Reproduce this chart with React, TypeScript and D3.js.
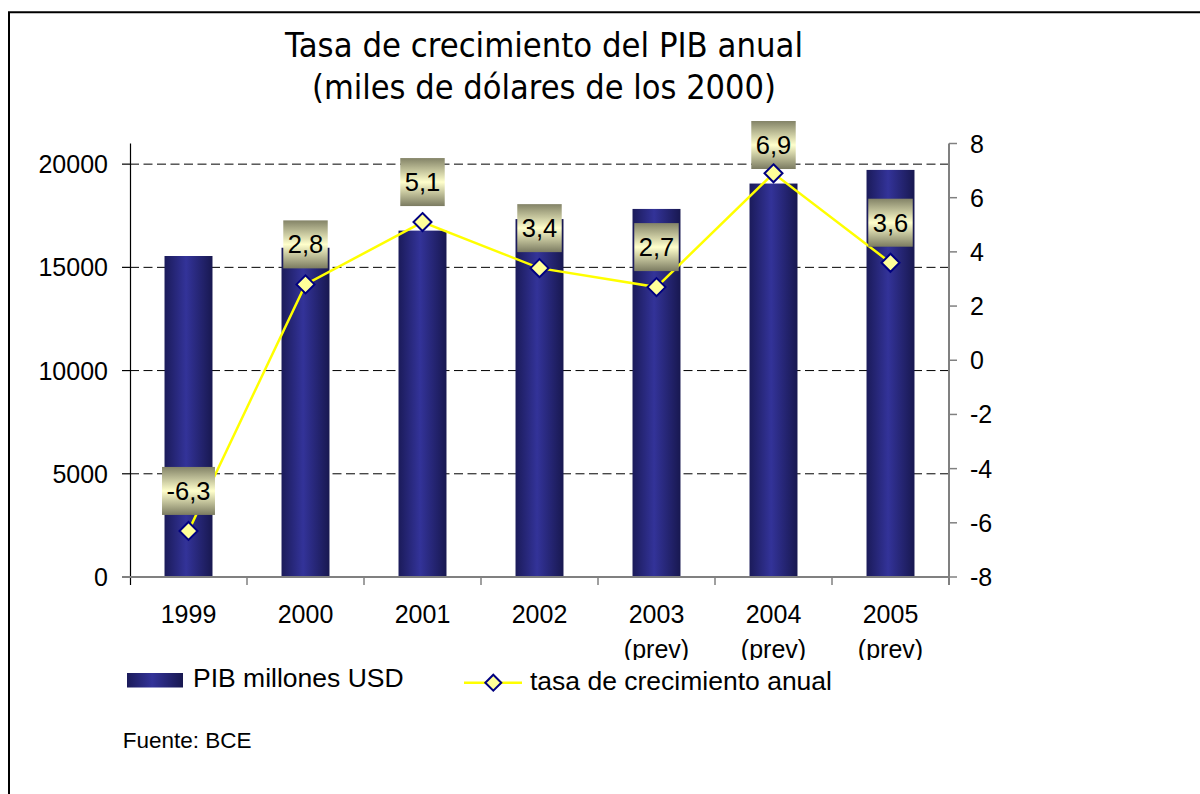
import React, { useEffect, useRef } from 'react';
import * as d3 from 'd3';

// values
const years = ['1999', '2000', '2001', '2002', '2003', '2004', '2005'];
const yearNotes = ['', '', '', '', '(prev)', '(prev)', '(prev)'];
const pibValues = [15550, 15950, 16780, 17340, 17830, 19060, 19720];
const growthRates = [-6.3, 2.8, 5.1, 3.4, 2.7, 6.9, 3.6];
const pibTicks = [0, 5000, 10000, 15000, 20000];
const rateTicks = [-8, -6, -4, -2, 0, 2, 4, 6, 8];

const titleLines = ['Tasa de crecimiento del PIB anual', '(miles de dólares de los 2000)'];
const legendLabels = ['PIB millones USD', 'tasa de crecimiento anual'];
const sourceNote = 'Fuente: BCE';

const ARIAL = "'Liberation Sans', Arial, sans-serif";
const diamond = (r: number) => `M0,${-r}L${r},0L0,${r}L${-r},0Z`;
const comma = (v: number) => String(v).replace('.', ',');

export default function App() {
    const chartRef = useRef<SVGSVGElement>(null);

    useEffect(() => {
        const svg = d3.select(chartRef.current);
        svg.selectAll('*').remove();

        const left = 130, right = 949, top = 143.5, bottom = 577;

        const x = d3.scaleBand().domain(years).range([left, right]).padding(0);
        const yPib = d3.scaleLinear().domain([0, 21000]).range([bottom, top]);
        const yRate = d3.scaleLinear().domain([-8, 8]).range([bottom, top]);
        const barWidth = x.bandwidth() * 0.41;
        const cx = (d: string) => (x(d) as number) + x.bandwidth() / 2;

        const defs = svg.append('defs');
        const barGrad = defs.append('linearGradient').attr('id', 'barGrad')
            .attr('x1', 0).attr('x2', 1).attr('y1', 0).attr('y2', 0);
        barGrad.append('stop').attr('offset', 0).attr('stop-color', '#1b1b5a');
        barGrad.append('stop').attr('offset', 0.45).attr('stop-color', '#333399');
        barGrad.append('stop').attr('offset', 1).attr('stop-color', '#181850');

        const boxGrad = defs.append('linearGradient').attr('id', 'boxGrad')
            .attr('x1', 0).attr('x2', 0).attr('y1', 0).attr('y2', 1);
        boxGrad.append('stop').attr('offset', 0).attr('stop-color', '#838367');
        boxGrad.append('stop').attr('offset', 0.5).attr('stop-color', '#ffffcc');
        boxGrad.append('stop').attr('offset', 1).attr('stop-color', '#7b7b61');

        // the second row of category labels is cut off by the legend area
        defs.append('clipPath').attr('id', 'xLabelClip')
            .append('rect').attr('x', 0).attr('y', 585).attr('width', 1200).attr('height', 75);

        // outer frame (runs off the page on the right and bottom)
        svg.append('path')
            .attr('d', 'M9,794V12.3H1200')
            .attr('fill', 'none').attr('stroke', '#000').attr('stroke-width', 2);

        // title
        svg.append('g').selectAll('text')
            .data(titleLines)
            .enter().append('text')
            .attr('x', 544)
            .attr('y', (d, i) => 57 + i * 42)
            .attr('text-anchor', 'middle')
            .attr('font-family', "'DejaVu Sans', sans-serif")
            .attr('font-size', 34)
            .attr('textLength', (d, i) => (i === 0 ? 518 : 464))
            .attr('lengthAdjust', 'spacingAndGlyphs')
            .text(d => d);

        // dashed gridlines
        svg.append('g').selectAll('line')
            .data(pibTicks.filter(t => t > 0))
            .enter().append('line')
            .attr('x1', left).attr('x2', right)
            .attr('y1', d => yPib(d)).attr('y2', d => yPib(d))
            .attr('stroke', '#000').attr('stroke-width', 1)
            .attr('stroke-dasharray', '9,4.5');

        // bars
        svg.append('g').selectAll('rect')
            .data(pibValues)
            .enter().append('rect')
            .attr('x', (d, i) => cx(years[i]) - barWidth / 2)
            .attr('y', d => yPib(d))
            .attr('width', barWidth)
            .attr('height', d => yPib(0) - yPib(d))
            .attr('fill', 'url(#barGrad)');

        // left axis
        const axes = svg.append('g');
        axes.append('line')
            .attr('x1', left + 0.5).attr('x2', left + 0.5).attr('y1', top).attr('y2', bottom + 8)
            .attr('stroke', '#000').attr('stroke-width', 1.2);
        axes.selectAll('.ltick')
            .data(pibTicks)
            .enter().append('line')
            .attr('x1', left - 8).attr('x2', left)
            .attr('y1', d => yPib(d)).attr('y2', d => yPib(d))
            .attr('stroke', '#000').attr('stroke-width', 1.2);
        axes.selectAll('.llabel')
            .data(pibTicks)
            .enter().append('text')
            .attr('x', 108).attr('y', d => yPib(d)).attr('dy', '0.36em')
            .attr('text-anchor', 'end')
            .attr('font-family', ARIAL).attr('font-size', 25)
            .text(d => String(d));

        // category axis
        axes.append('line')
            .attr('x1', left - 8).attr('x2', right).attr('y1', bottom).attr('y2', bottom)
            .attr('stroke', '#808080').attr('stroke-width', 2);
        axes.selectAll('.xtick')
            .data(years.slice(1))
            .enter().append('line')
            .attr('x1', d => x(d) as number).attr('x2', d => x(d) as number)
            .attr('y1', bottom).attr('y2', bottom + 8)
            .attr('stroke', '#808080').attr('stroke-width', 1.5);
        const xLabels = axes.append('g').attr('clip-path', 'url(#xLabelClip)')
            .selectAll('text')
            .data(years)
            .enter().append('text')
            .attr('x', d => cx(d))
            .attr('y', 622.5)
            .attr('text-anchor', 'middle')
            .attr('font-family', ARIAL).attr('font-size', 25);
        xLabels.append('tspan').text(d => d);
        xLabels.append('tspan')
            .attr('x', d => cx(d)).attr('dy', 35)
            .text((d, i) => yearNotes[i]);

        // right axis
        axes.append('line')
            .attr('x1', right).attr('x2', right).attr('y1', top).attr('y2', bottom + 8)
            .attr('stroke', '#808080').attr('stroke-width', 2);
        axes.selectAll('.rtick')
            .data(rateTicks)
            .enter().append('line')
            .attr('x1', right).attr('x2', right + 8)
            .attr('y1', d => yRate(d)).attr('y2', d => yRate(d))
            .attr('stroke', '#808080').attr('stroke-width', 1.5);
        axes.selectAll('.rlabel')
            .data(rateTicks)
            .enter().append('text')
            .attr('x', 970).attr('y', d => yRate(d)).attr('dy', '0.36em')
            .attr('font-family', ARIAL).attr('font-size', 25)
            .text(d => String(d));

        // growth line
        const line = d3.line<number>()
            .x((d, i) => cx(years[i]))
            .y(d => yRate(d));
        svg.append('path')
            .datum(growthRates)
            .attr('d', line)
            .attr('fill', 'none')
            .attr('stroke', '#ffff00')
            .attr('stroke-width', 2.5);

        // data labels
        const labels = svg.append('g').selectAll('g')
            .data(growthRates)
            .enter().append('g')
            .attr('transform', (d, i) =>
                `translate(${cx(years[i])},${Math.max(yRate(d) - 40, 145)})`);
        const rects = labels.append('rect').attr('fill', 'url(#boxGrad)');
        const texts = labels.append('text')
            .attr('y', 9)
            .attr('text-anchor', 'middle')
            .attr('font-family', ARIAL).attr('font-size', 25.5)
            .text(d => comma(d));
        texts.each(function (d, i) {
            const w = (this as SVGTextElement).getComputedTextLength() + 9;
            d3.select(rects.nodes()[i])
                .attr('x', -w / 2).attr('y', -24)
                .attr('width', w).attr('height', 48);
        });

        // markers
        svg.append('g').selectAll('path')
            .data(growthRates)
            .enter().append('path')
            .attr('d', diamond(9))
            .attr('transform', (d, i) => `translate(${cx(years[i])},${yRate(d)})`)
            .attr('fill', '#ffff99')
            .attr('stroke', '#000080')
            .attr('stroke-width', 2);

        // legend
        const legend = svg.append('g');
        legend.append('rect')
            .attr('x', 127).attr('y', 673).attr('width', 56).attr('height', 14.5)
            .attr('fill', 'url(#barGrad)');
        legend.append('text')
            .attr('x', 193).attr('y', 686.7)
            .attr('font-family', ARIAL).attr('font-size', 26.5)
            .text(legendLabels[0]);
        legend.append('line')
            .attr('x1', 464).attr('x2', 522).attr('y1', 682.7).attr('y2', 682.7)
            .attr('stroke', '#ffff00').attr('stroke-width', 2.5);
        legend.append('path')
            .attr('d', diamond(8))
            .attr('transform', 'translate(493.3,682.7)')
            .attr('fill', '#ffff99').attr('stroke', '#000080').attr('stroke-width', 2);
        legend.append('text')
            .attr('x', 530).attr('y', 690)
            .attr('font-family', ARIAL).attr('font-size', 26.5)
            .text(legendLabels[1]);

        svg.append('text')
            .attr('x', 122.7).attr('y', 748.3)
            .attr('font-family', ARIAL).attr('font-size', 22.5)
            .text(sourceNote);
    }, []);

    return (
        <div style={{ position: 'absolute', left: 0, top: 0 }}>
            <svg ref={chartRef} width={1200} height={794} style={{ display: 'block', background: '#fff' }}></svg>
        </div>
    );
}
